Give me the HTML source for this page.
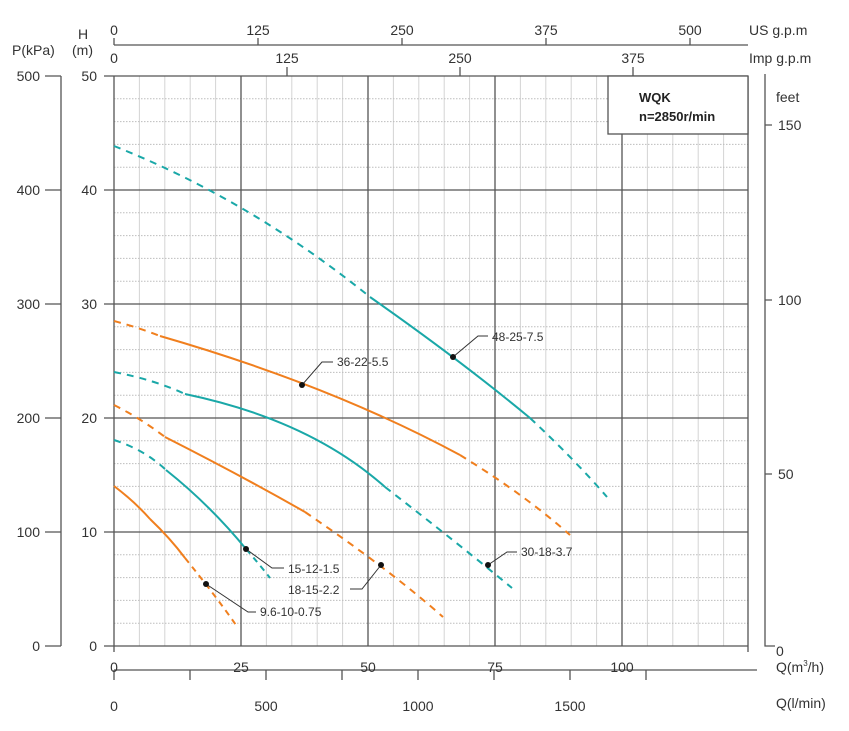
<!DOCTYPE html>
<html><head><meta charset="utf-8"><style>
html,body{margin:0;padding:0;background:#fff;}
svg{display:block;font-family:"Liberation Sans",Arial,sans-serif;}
</style></head><body>
<svg width="849" height="731" viewBox="0 0 849 731" xmlns="http://www.w3.org/2000/svg">
<rect width="849" height="731" fill="#fff"/>
<g stroke="#d4d4d4" stroke-width="1">
<path d="M139.4 76V646M164.8 76V646M190.2 76V646M215.6 76V646M266.4 76V646M291.8 76V646M317.2 76V646M342.6 76V646M393.4 76V646M418.8 76V646M444.2 76V646M469.6 76V646M520.4 76V646M545.8 76V646M571.2 76V646M596.6 76V646M647.4 76V646M672.8 76V646M698.2 76V646M723.6 76V646"/>
</g>
<g stroke="#bdbdbd" stroke-width="1" stroke-dasharray="1.5,1.5">
<path d="M114 98.8H748M114 121.6H748M114 144.4H748M114 167.2H748M114 212.8H748M114 235.6H748M114 258.4H748M114 281.2H748M114 326.8H748M114 349.6H748M114 372.4H748M114 395.2H748M114 440.8H748M114 463.6H748M114 486.4H748M114 509.2H748M114 554.8H748M114 577.6H748M114 600.4H748M114 623.2H748"/>
</g>
<g stroke="#555" stroke-width="1.3" fill="none">
<path d="M241 76V646M368 76V646M495 76V646M622 76V646M748 76V652"/>
<path d="M114 190H748M114 304H748M114 418H748M114 532H748"/>
<path d="M104 76H748M104 646H748M114 76V652"/>
<path d="M104 190H114M104 304H114M104 418H114M104 532H114"/>
<path d="M114 45H748M114 38V45M258 38V45M402 38V45M546 38V45M690 38V45"/>
<path d="M287 67V76M460 67V76M633 67V76"/>
<path d="M61 76V646M45 76H61M45 190H61M45 304H61M45 418H61M45 532H61M45 646H61"/>
<path d="M765 74V646H775M765 125H772M765 300H772M765 474H772"/>
<path d="M114 670H757M114 670V680M190 670V680M266 670V680M342 670V680M418 670V680M494 670V680M570 670V680M646 670V680"/>
</g>
<rect x="608" y="76" width="140" height="58" fill="#fff" stroke="#555" stroke-width="1.3"/>
<text x="639" y="102" font-size="13" font-weight="bold" fill="#222">WQK</text>
<text x="639" y="121" font-size="13" font-weight="bold" fill="#222">n=2850r/min</text>
<g font-size="14" fill="#333" text-anchor="middle">
<text x="114" y="35">0</text><text x="258" y="35">125</text><text x="402" y="35">250</text><text x="546" y="35">375</text><text x="690" y="35">500</text>
<text x="114" y="63">0</text><text x="287" y="63">125</text><text x="460" y="63">250</text><text x="633" y="63">375</text>
<text x="114" y="672">0</text><text x="241" y="672">25</text><text x="368" y="672">50</text><text x="495" y="672">75</text><text x="622" y="672">100</text>
<text x="114" y="711">0</text><text x="266" y="711">500</text><text x="418" y="711">1000</text><text x="570" y="711">1500</text>
</g>
<g font-size="14" fill="#333" text-anchor="end">
<text x="40" y="81">500</text><text x="40" y="195">400</text><text x="40" y="309">300</text><text x="40" y="423">200</text><text x="40" y="537">100</text><text x="40" y="651">0</text>
<text x="97" y="81">50</text><text x="97" y="195">40</text><text x="97" y="309">30</text><text x="97" y="423">20</text><text x="97" y="537">10</text><text x="97" y="651">0</text>
</g>
<g font-size="14" fill="#333">
<text x="778" y="130">150</text><text x="778" y="305">100</text><text x="778" y="479">50</text><text x="776" y="656">0</text>
<text x="776" y="102">feet</text>
<text x="749" y="35">US g.p.m</text><text x="749" y="63">Imp g.p.m</text>
<text x="12" y="55">P(kPa)</text>
<text x="78" y="39">H</text><text x="72" y="55">(m)</text>
<text x="776" y="672">Q(m<tspan font-size="8" dy="-6">3</tspan><tspan dy="6">/h)</tspan></text>
<text x="776" y="708">Q(l/min)</text>
</g>
<g fill="none" stroke-width="2">
<path d="M114 146Q250 200 370 297" stroke="#1aa8a8" stroke-dasharray="7,6"/>
<path d="M370 297Q460 360 530 418" stroke="#1aa8a8"/>
<path d="M530 418Q575 460 607 497" stroke="#1aa8a8" stroke-dasharray="7,6"/>
<path d="M114 321Q140 328 160 336" stroke="#f07f1e" stroke-dasharray="7,6"/>
<path d="M160 336Q330 385 460 455" stroke="#f07f1e"/>
<path d="M460 455Q525 495 570 535" stroke="#f07f1e" stroke-dasharray="7,6"/>
<path d="M114 372Q155 380 185 394" stroke="#1aa8a8" stroke-dasharray="7,6"/>
<path d="M185 394Q310 420 385 487" stroke="#1aa8a8"/>
<path d="M385 487Q460 545 512 588" stroke="#1aa8a8" stroke-dasharray="7,6"/>
<path d="M114 405Q140 418 165 437" stroke="#f07f1e" stroke-dasharray="7,6"/>
<path d="M165 437Q240 475 305 512" stroke="#f07f1e"/>
<path d="M305 512Q390 570 443 617" stroke="#f07f1e" stroke-dasharray="7,6"/>
<path d="M114 440Q145 450 166 470" stroke="#1aa8a8" stroke-dasharray="7,6"/>
<path d="M166 470Q210 505 246 549" stroke="#1aa8a8"/>
<path d="M246 549Q260 565 270 578" stroke="#1aa8a8" stroke-dasharray="6,5"/>
<path d="M114 486Q135 502 150 519" stroke="#f07f1e"/>
<path d="M150 519Q170 538 185 558" stroke="#f07f1e"/>
<path d="M185 558Q215 595 236 625" stroke="#f07f1e" stroke-dasharray="6,5"/>
</g>
<g fill="none" stroke="#333" stroke-width="1">
<path d="M453 357L478 336H488"/>
<path d="M302 385L322 362H333"/>
<path d="M488 565L507 552H517"/>
<path d="M246 549L272 568H284"/>
<path d="M381 565L362 589H350"/>
<path d="M206 584L248 612H256"/>
</g>
<g fill="#111">
<circle cx="453" cy="357" r="3"/><circle cx="302" cy="385" r="3"/><circle cx="488" cy="565" r="3"/>
<circle cx="246" cy="549" r="3"/><circle cx="381" cy="565" r="3"/><circle cx="206" cy="584" r="3"/>
</g>
<g font-size="12" fill="#333">
<text x="492" y="341">48-25-7.5</text>
<text x="337" y="366">36-22-5.5</text>
<text x="521" y="556">30-18-3.7</text>
<text x="288" y="573">15-12-1.5</text>
<text x="288" y="594">18-15-2.2</text>
<text x="260" y="616">9.6-10-0.75</text>
</g>
</svg>
</body></html>
